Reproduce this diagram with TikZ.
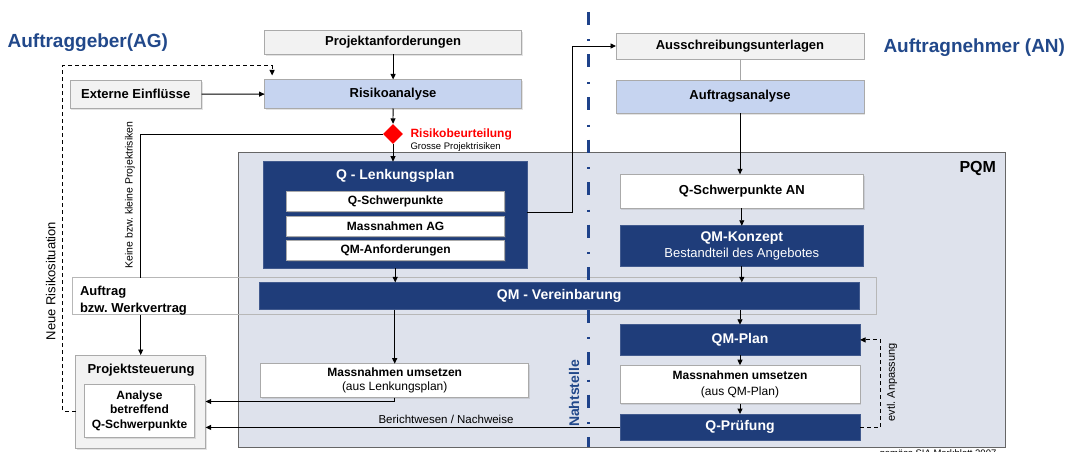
\documentclass[tikz,border=0pt]{standalone}
\usepackage{fontspec}
\setmainfont{Liberation Sans}
\usetikzlibrary{arrows.meta,shapes.geometric,shadows,calc}

\definecolor{navy}{RGB}{31,61,122}
\definecolor{titleblue}{RGB}{33,72,138}
\definecolor{seamblue}{RGB}{30,66,138}
\definecolor{pqmfill}{RGB}{222,226,236}
\definecolor{lightblue}{RGB}{198,212,240}
\definecolor{lightgray}{RGB}{242,242,242}
\definecolor{edgegray}{RGB}{170,170,170}

\newcommand{\fsz}[2]{\fontsize{#1pt}{#2pt}\selectfont}
\frenchspacing

\begin{document}
\begin{tikzpicture}[x=1pt,y=-1pt,
  base/.style={inner sep=0pt, outer sep=0pt, align=center},
  box/.style={base, draw=edgegray, line width=0.8pt,
    drop shadow={shadow xshift=1.2pt, shadow yshift=-1.5pt, opacity=0.22}},
  graybox/.style={box, fill=lightgray},
  bluebox/.style={box, fill=lightblue},
  whitebox/.style={box, fill=white},
  navybox/.style={base, fill=navy, draw=navy!85!white, line width=0.6pt, text=white},
  plainline/.style={line width=0.9pt},
  conn/.style={line width=0.9pt, -{Triangle[length=5.5pt,width=5pt]}},
  dashconn/.style={conn, dash pattern=on 4pt off 3pt},
  seam/.style={seamblue, line width=3pt, dash pattern=on 13pt off 14.5pt on 2pt off 13pt},
  bold12/.style={font=\fsz{12}{14.5}\bfseries},
  bold13/.style={font=\fsz{13}{15}\bfseries},
  bold14/.style={font=\fsz{14}{16}\bfseries}]

\useasboundingbox (0,0) rectangle (1068,452);

% project quality management zone
\node[base, draw=gray!80!black, fill=pqmfill, line width=1pt,
  minimum width=767pt, minimum height=295pt] (pqm) at (621.8,299.5) {};
\node[base, anchor=base east, font=\fsz{16}{19}\bfseries] (pqmlabel) at (996,172.6) {PQM};

% contract frame spanning both sides
\node[base, draw=edgegray!85, line width=0.8pt,
  minimum width=803.5pt, minimum height=37pt] (auftrag) at (474.25,296) {};
\node[base, anchor=west, align=left, font=\fsz{13}{16.7}\bfseries] (auftragtext) at (80,300.5)
  {Auftrag\\bzw. Werkvertrag};

% interface line between client and contractor
\coordinate (seamtop) at (588,12);
\coordinate (seambot) at (588,447);
\draw[seam] (seamtop) -- (seambot);

% headings
\node[base, anchor=west, font=\fsz{19}{22}\bfseries, text=titleblue] (ag) at (7.6,43) {Auftraggeber(AG)};
\node[base, anchor=west, font=\fsz{19}{22}\bfseries, text=titleblue] (an) at (883.5,48) {Auftragnehmer (AN)};

% client side
\node[graybox, bold13, minimum width=257pt, minimum height=24pt] (proj) at (393.1,42.5) {Projektanforderungen};
\node[bluebox, bold13, minimum width=257pt, minimum height=29pt] (risk) at (393.1,94) {Risikoanalyse};
\node[graybox, bold13, minimum width=131.5pt, minimum height=28.5pt] (ext) at (135.75,94.25) {Externe Einflüsse};
\node[diamond, fill=red, inner sep=0pt, minimum width=20pt, minimum height=20pt] (dia) at (393,134) {};
\node[base, anchor=base west, font=\fsz{12}{14}\bfseries, text=red] (rbeu) at (410.5,137.9) {Risikobeurteilung};
\node[base, anchor=base west, font=\fsz{9.5}{11}] (gross) at (410.5,149.8) {Grosse Projektrisiken};

\node[navybox, minimum width=263.5pt, minimum height=106.7pt] (qlenk) at (395.2,215) {};
\node[base, bold14, text=white] (qlenktitle) at (395.2,175.5) {Q - Lenkungsplan};
\node[whitebox, bold12, minimum width=218.3pt, minimum height=20pt] (qschw) at (395.6,201.7) {Q-Schwerpunkte};
\node[whitebox, bold12, minimum width=218.3pt, minimum height=20pt] (massag) at (395.6,226.4) {Massnahmen AG};
\node[whitebox, bold12, minimum width=218.3pt, minimum height=20pt] (qmanf) at (395.6,250.7) {QM-Anforderungen};

\node[navybox, bold14, minimum width=599.3pt, minimum height=27.1pt] (qmv) at (559.2,296) {QM - Vereinbarung};

\node[whitebox, font=\fsz{12}{14.5}, minimum width=267.9pt, minimum height=33.8pt] (mleft) at (394.7,380.6)
  {\textbf{Massnahmen umsetzen}\\(aus Lenkungsplan)};

\node[graybox, minimum width=129.8pt, minimum height=93pt] (steuer) at (140.7,401.5) {};
\node[base, bold13] (steuertitle) at (141,370.6) {Projektsteuerung};
\node[whitebox, font=\fsz{12}{14.3}\bfseries, minimum width=110.2pt, minimum height=52.6pt] (analyse) at (139.5,410.7)
  {Analyse\\betreffend\\Q-Schwerpunkte};

% contractor side
\node[graybox, bold13, minimum width=248pt, minimum height=26pt] (ausschr) at (740,46) {Ausschreibungsunterlagen};
\node[bluebox, bold13, minimum width=248pt, minimum height=33pt] (auftana) at (740,96.6) {Auftragsanalyse};
\node[whitebox, bold13, minimum width=243.6pt, minimum height=33.7pt] (qsan) at (741.8,191.2) {Q-Schwerpunkte AN};
\node[navybox, font=\fsz{14}{16.2}, minimum width=243.6pt, minimum height=40.5pt] (qmk) at (741.8,246)
  {\textbf{QM-Konzept}\\{\fsz{13}{16.2}Bestandteil des Angebotes}};
\node[navybox, bold14, minimum width=240pt, minimum height=30.3pt] (qmplan) at (740,339.9) {QM-Plan};
\node[whitebox, font=\fsz{12}{15.1}, minimum width=240pt, minimum height=38.4pt] (mright) at (740,384.4)
  {\textbf{Massnahmen umsetzen}\\(aus QM-Plan)};
\node[navybox, bold14, minimum width=240pt, minimum height=26.7pt] (qpruef) at (740,427.4) {Q-Prüfung};

% rotated side labels
\node[base, rotate=90, font=\fsz{10.5}{12}] (keine) at (130,195) {Keine bzw. kleine Projektrisiken};
\node[base, rotate=90, font=\fsz{13}{15}] (neue) at (50.7,281) {Neue Risikosituation};
\node[base, rotate=90, font=\fsz{14}{16}\bfseries, text=titleblue] (naht) at (574,393.5) {Nahtstelle};
\node[base, rotate=90, font=\fsz{11}{13}] (evtl) at (892,382.4) {evtl. Anpassung};
\node[base, font=\fsz{11.5}{13}] (bericht) at (446,419.5) {Berichtwesen / Nachweise};
\node[base, anchor=base, font=\fsz{9.5}{11}] (quelle) at (938,456.5) {gemäss SIA Merkblatt 2007};

% connectors, client side
\draw[conn] (proj) -- (risk);
\draw[conn] (ext) -- (risk);
\draw[conn] (risk) -- (dia);
\draw[conn] (dia.south) -- (dia.south |- qlenk.north);
\draw[plainline] (dia.west) -| (steuer.north |- auftrag.north);
\draw[conn] (steuer.north |- auftrag.south) -- (steuer.north);
\draw[conn] (qlenk.south) -- (qlenk.south |- qmv.north);
\draw[conn] ([yshift=2.5pt]qlenk.east) -- ++(45,0) |- (ausschr.west);
\draw[conn] (mleft.north |- qmv.south) -- (mleft.north);
\draw[conn] (mleft.south) |- (steuer.east);
\draw[conn] (qpruef.west) -- (qpruef.west -| steuer.east);
\draw[dashconn, shorten >=4pt] ([yshift=-9.5pt]steuer.west) -- ++(-13,0)
  |- ($(risk.north west)+(7.5,-14)$) -- ($(risk.north west)+(7.5,0)$);

% connectors, contractor side
\draw[gray!70, line width=0.6pt] (ausschr) -- (auftana);
\draw[conn] (auftana.south) -- (auftana.south |- qsan.north);
\draw[conn] (qsan) -- (qmk);
\draw[conn] (qmk.south) -- (qmk.south |- qmv.north);
\draw[conn] (qmplan.north |- qmv.south) -- (qmplan.north);
\draw[conn] (qmplan) -- (mright);
\draw[conn] (mright) -- (qpruef);
\draw[dashconn] (qpruef.east) -- ++(20.7,0) |- (qmplan.east);

\end{tikzpicture}
\end{document}
